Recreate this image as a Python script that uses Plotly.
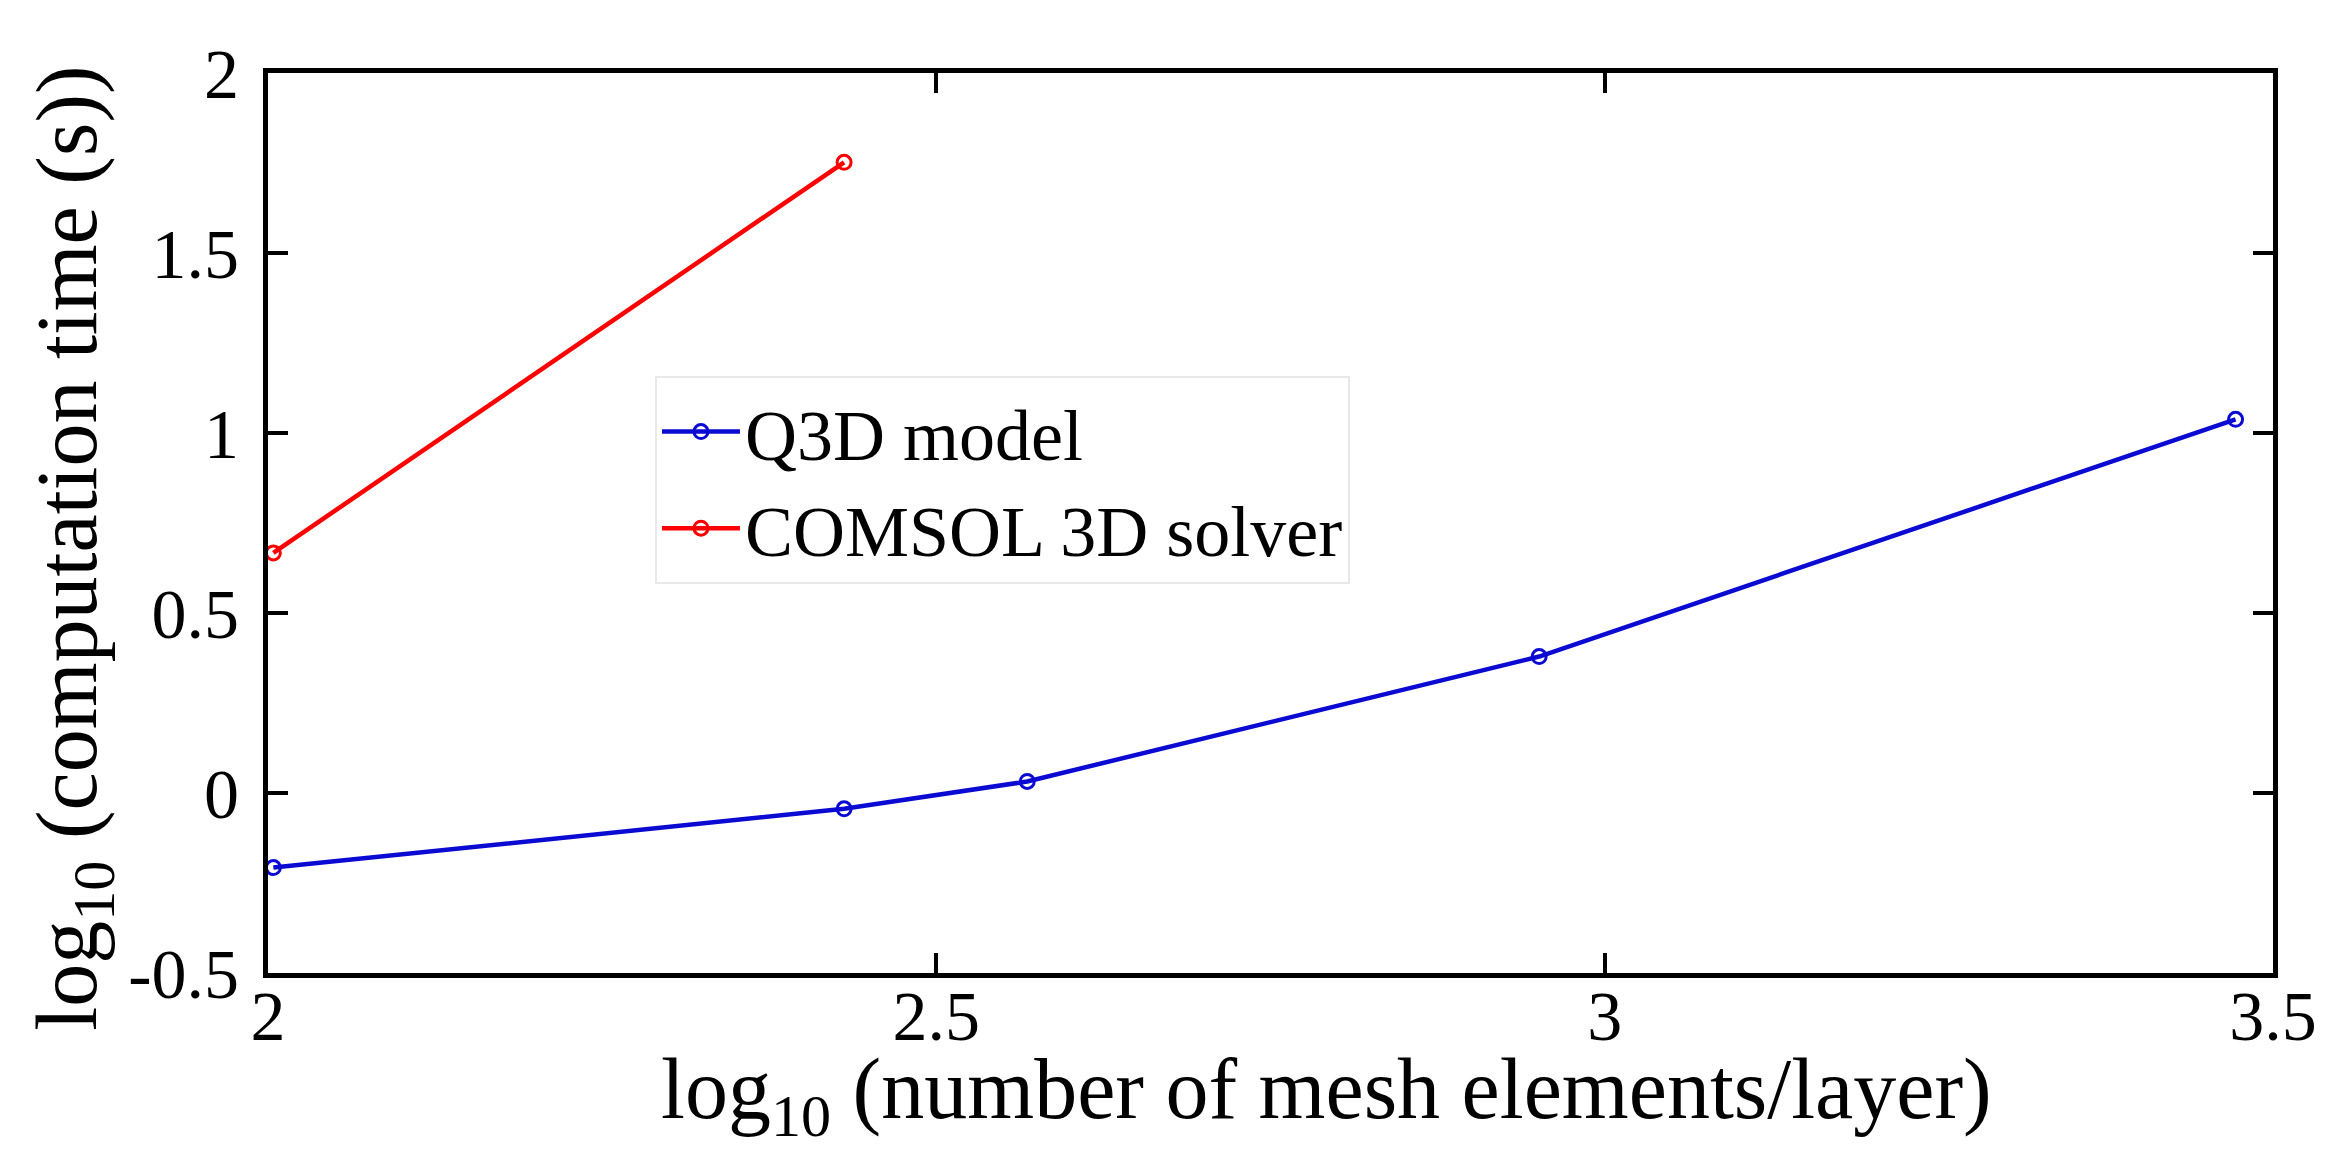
import plotly.graph_objects as go

# values (log10 scale on both axes)
q3d_x = [2.004, 2.431, 2.568, 2.951, 3.472]
q3d_y = [-0.207, -0.044, 0.032, 0.379, 1.038]
comsol_x = [2.004, 2.431]
comsol_y = [0.667, 1.752]

x_ticks = [2, 2.5, 3, 3.5]
y_ticks = [-0.5, 0, 0.5, 1, 1.5, 2]

FONT = "Liberation Serif"

fig = go.Figure()
fig.add_trace(go.Scatter(
    x=q3d_x, y=q3d_y, mode="lines+markers", name="Q3D model",
    line=dict(color="#0a0ad2", width=4.5),
    marker=dict(symbol="circle-open", size=14, color="#0a0ad2", line=dict(width=3)),
))
fig.add_trace(go.Scatter(
    x=comsol_x, y=comsol_y, mode="lines+markers", name="COMSOL 3D solver",
    line=dict(color="#ff0000", width=4.5),
    marker=dict(symbol="circle-open", size=14, color="#ff0000", line=dict(width=3)),
))

axis_common = dict(
    showgrid=False, zeroline=False,
    showline=True, linecolor="black", linewidth=5, mirror="ticks",
    ticks="inside", ticklen=20, tickwidth=3.5, tickcolor="black",
    tickfont=dict(family=FONT, size=70, color="black"),
)

fig.update_layout(
    width=2332, height=1173,
    margin=dict(l=260, r=67, t=65, b=208),
    paper_bgcolor="white", plot_bgcolor="white",
    font=dict(family=FONT, color="black"),
    xaxis=dict(
        range=[2, 3.5], tickvals=x_ticks, ticktext=[str(v) for v in x_ticks],
        ticklabelstandoff=-22,
        **axis_common,
    ),
    yaxis=dict(
        range=[-0.5, 2], tickvals=y_ticks, ticktext=[str(v) for v in y_ticks],
        ticklabelstandoff=10,
        **axis_common,
    ),
    legend=dict(
        x=0.193, y=0.663, xanchor="left", yanchor="top",
        bgcolor="white", bordercolor="#e8e8e8", borderwidth=2,
        font=dict(family=FONT, size=72, color="black"),
        itemwidth=78,
    ),
    showlegend=True,
    annotations=[
        dict(text="log<sub>10</sub> (number of mesh elements/layer)",
             xref="paper", yref="paper", x=0.528, y=-0.135,
             xanchor="center", yanchor="middle", showarrow=False,
             font=dict(family=FONT, size=86, color="black")),
        dict(text="log<sub>10</sub> (computation time (s))",
             xref="paper", yref="paper", x=-0.097, y=0.472, textangle=-90,
             xanchor="center", yanchor="middle", showarrow=False,
             font=dict(family=FONT, size=86, color="black")),
    ],
)

fig.write_html("out.html")
